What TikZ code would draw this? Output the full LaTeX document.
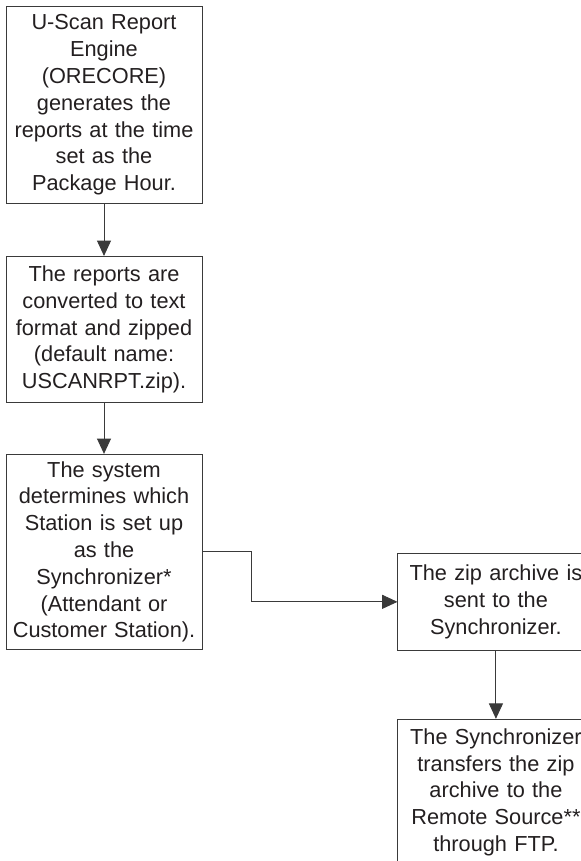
\documentclass[tikz,border=0pt]{standalone}
\usepackage{fontspec}
\setmainfont{Liberation Sans}
\usetikzlibrary{arrows.meta, positioning}
\definecolor{LineDark}{HTML}{3A3A3A}
\definecolor{TextDark}{HTML}{231F20}

\begin{document}
\begin{tikzpicture}[
        node distance=39pt,
        stepbox/.style={rectangle, draw=LineDark, line width=0.7pt, text width=144pt, inner xsep=1.5pt, align=center, font=\fontsize{16.3}{20.1}\selectfont, text=TextDark},
        arrow/.style={-{Triangle[length=11.5pt, width=10.5pt]}, line width=0.7pt, LineDark}
      ]
        \useasboundingbox (0,0) rectangle (435.75pt,-645.75pt);

        % Nodes
        \node[stepbox, minimum height=147.75pt, anchor=north] (engine) at (78pt,-4.5pt) {U-Scan Report\\ Engine\\ (ORECORE)\\ generates the\\ reports at the time\\ set as the\\ Package Hour.};
        \node[stepbox, minimum height=109.5pt, below=of engine] (convert) {The reports are\\ converted to text\\ format and zipped\\ (default name:\\ USCANRPT.zip).};
        \node[stepbox, minimum height=146.25pt, below=38.25pt of convert] (station) {The system\\ determines which\\ Station is set up\\ as the\\ Synchronizer*\\ (Attendant or\\ Customer Station).};
        \node[stepbox, minimum height=72.75pt, right=146.25pt of station, yshift=-37.5pt] (send) {The zip archive is\\ sent to the\\ Synchronizer.};
        \node[stepbox, minimum height=109.5pt, below=51pt of send] (transfer) {The Synchronizer\\ transfers the zip\\ archive to the\\ Remote Source**\\ through FTP.};

        % Edges
        \draw[arrow] (engine) -- (convert);
        \draw[arrow] (convert) -- (station);
        \draw[arrow] (station.east) -- ++(36.75pt,0) |- (send.west);
        \draw[arrow] (send) -- (transfer);
      \end{tikzpicture}
\end{document}
